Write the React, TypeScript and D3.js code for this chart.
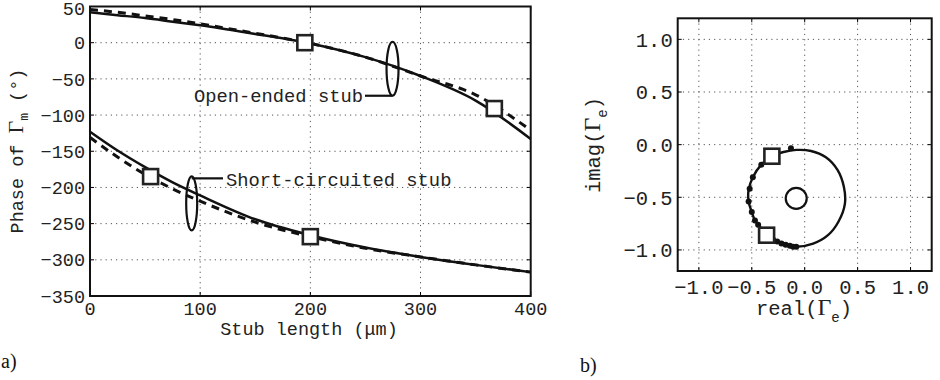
import React from "react";
import * as d3 from "d3";

// ---------- Data (a) ----------
const stubLen = [0, 25, 50, 75, 100, 150, 200, 250, 300, 350, 400];
const openSolid = [42, 38, 34, 29, 24, 12, -1, -20, -46, -80, -133];
const openDashed = [46, 42, 37, 32, 26, 13, -1, -20, -46, -72, -121];
const shortSolid = [-123, -149, -172, -193, -211, -244, -266, -283, -296, -307, -317];
const shortDashed = [-131, -158, -182, -202, -219, -248, -268, -284, -296, -307, -317];
const openSquares: [number, number][] = [[195, 0], [367, -91]];
const shortSquares: [number, number][] = [[55, -185], [200, -268]];
const aXTicks = [0, 100, 200, 300, 400];
const aYTicks = [50, 0, -50, -100, -150, -200, -250, -300, -350];

// ---------- Data (b) ----------
const locusRe = [-0.08, 0.08, 0.22, 0.32, 0.38, 0.37, 0.31, 0.2, 0.06, -0.08, -0.2, -0.31, -0.41, -0.49, -0.53, -0.53, -0.5, -0.47, -0.43, -0.36, -0.25, -0.15];
const locusIm = [-0.97, -0.94, -0.86, -0.73, -0.56, -0.4, -0.24, -0.12, -0.06, -0.05, -0.07, -0.11, -0.19, -0.31, -0.43, -0.54, -0.64, -0.72, -0.77, -0.85, -0.92, -0.96];
const dotRe = [-0.13, -0.41, -0.49, -0.52, -0.53, -0.5, -0.47, -0.44, -0.3, -0.26, -0.22, -0.18, -0.14, -0.11, -0.08];
const dotIm = [-0.035, -0.19, -0.31, -0.42, -0.54, -0.64, -0.72, -0.76, -0.9, -0.92, -0.94, -0.95, -0.96, -0.97, -0.97];
const bSquares: [number, number][] = [[-0.31, -0.11], [-0.36, -0.86]];
const bCircle: [number, number] = [-0.08, -0.51];
const bTicks = [-1.0, -0.5, 0.0, 0.5, 1.0];

const MONO = "'Liberation Mono', 'Courier New', monospace";

export default function App() {
  // Panel a scales
  const xa = d3.scaleLinear().domain([0, 400]).range([90, 530.7]);
  const ya = d3.scaleLinear().domain([-350, 50]).range([296, 6.5]);
  // Panel b scales
  const xb = d3.scaleLinear().domain([-1.2, 1.2]).range([677.7, 931.7]);
  const yb = d3.scaleLinear().domain([-1.2, 1.2]).range([271, 18.3]);

  const lineA = (vals: number[]) =>
    d3
      .line<number>()
      .x((_, i) => xa(stubLen[i]))
      .y((v) => ya(v))
      .curve(d3.curveMonotoneX)(vals) as string;

  const locus = d3
    .line<number>()
    .x((v) => xb(v))
    .y((_, i) => yb(locusIm[i]))
    .curve(d3.curveCatmullRomClosed.alpha(0.5))(locusRe) as string;

  const grid = { stroke: "#555", strokeWidth: 1, strokeDasharray: "1.2,4" };
  const sq = 15;

  return (
    <svg
      width={940}
      height={380}
      style={{ position: "absolute", left: 0, top: 0, background: "#fff" }}
      fontFamily={MONO}
    >
      <rect x={0} y={0} width={940} height={380} fill="#fff" />
      {/* ---------- Panel a ---------- */}
      <g>
        {aXTicks.slice(1, -1).map((t) => (
          <line key={"gx" + t} x1={xa(t)} x2={xa(t)} y1={ya(50)} y2={ya(-350)} {...grid} />
        ))}
        {aYTicks.slice(1, -1).map((t) => (
          <line key={"gy" + t} x1={xa(0)} x2={xa(400)} y1={ya(t)} y2={ya(t)} {...grid} />
        ))}
        {aXTicks.map((t) => (
          <g key={"tx" + t}>
            <line x1={xa(t)} x2={xa(t)} y1={ya(-350)} y2={ya(-350) - 4} stroke="#000" strokeWidth={1} />
            <line x1={xa(t)} x2={xa(t)} y1={ya(50)} y2={ya(50) + 4} stroke="#000" strokeWidth={1} />
            <text x={xa(t)} y={315} textAnchor="middle" fontSize={18.5} fill="#222">
              {t}
            </text>
          </g>
        ))}
        {aYTicks.map((t) => (
          <g key={"ty" + t}>
            <line x1={xa(0)} x2={xa(0) + 4} y1={ya(t)} y2={ya(t)} stroke="#000" strokeWidth={1} />
            <line x1={xa(400)} x2={xa(400) - 4} y1={ya(t)} y2={ya(t)} stroke="#000" strokeWidth={1} />
            <text x={85} y={Math.max(ya(t), 8.5)} dy="0.36em" textAnchor="end" fontSize={18.5} fill="#222">
              {t < 0 ? "\u2212" + Math.abs(t) : t}
            </text>
          </g>
        ))}

        <path d={lineA(openDashed)} fill="none" stroke="#111" strokeWidth={3} strokeDasharray="8,6" />
        <path d={lineA(openSolid)} fill="none" stroke="#111" strokeWidth={2.5} />
        <path d={lineA(shortDashed)} fill="none" stroke="#111" strokeWidth={3} strokeDasharray="8,6" />
        <path d={lineA(shortSolid)} fill="none" stroke="#111" strokeWidth={2.5} />

        {[...openSquares, ...shortSquares].map(([x, y], i) => (
          <rect
            key={"sq" + i}
            x={xa(x) - sq / 2}
            y={ya(y) - sq / 2}
            width={sq}
            height={sq}
            fill="#fff"
            stroke="#222"
            strokeWidth={2.6}
          />
        ))}

        {/* annotations */}
        <ellipse cx={xa(274.6)} cy={ya(-36)} rx={6} ry={27} fill="none" stroke="#111" strokeWidth={2.2} />
        <line x1={365} x2={xa(274.6)} y1={ya(-36) + 27} y2={ya(-36) + 27} stroke="#111" strokeWidth={2.2} />
        <text x={363} y={ya(-36) + 27} dy="0.33em" textAnchor="end" fontSize={18.8} fill="#222">
          Open-ended stub
        </text>
        <ellipse cx={xa(92.3)} cy={ya(-222)} rx={5.5} ry={27} fill="none" stroke="#111" strokeWidth={2.2} />
        <line x1={xa(92.3)} x2={223} y1={ya(-222) - 25} y2={ya(-222) - 25} stroke="#111" strokeWidth={2.2} />
        <text x={226} y={ya(-222) - 24} dy="0.33em" textAnchor="start" fontSize={18.8} fill="#222">
          Short-circuited stub
        </text>

        <rect x={xa(0)} y={ya(50)} width={xa(400) - xa(0)} height={ya(-350) - ya(50)} fill="none" stroke="#111" strokeWidth={2} />

        <text x={309} y={335} textAnchor="middle" fontSize={18.5} fill="#222">
          Stub length (μm)
        </text>
        <text transform="translate(23,151) rotate(-90)" textAnchor="middle" fontSize={18.5} fill="#222">
          Phase of <tspan fontFamily="'Liberation Serif', serif" fontSize={22}>Γ</tspan>
          <tspan fontSize={13} dy={5}>m</tspan>
          <tspan dy={-5}> (°)</tspan>
        </text>
        <text x={1} y={368} fontFamily="'Liberation Serif', 'DejaVu Serif', serif" fontSize={20} fill="#111">
          a)
        </text>
      </g>

      {/* ---------- Panel b ---------- */}
      <g>
        {bTicks.map((t) => (
          <g key={"bg" + t}>
            <line x1={xb(t)} x2={xb(t)} y1={yb(1.2)} y2={yb(-1.2)} {...grid} />
            <line x1={xb(-1.2)} x2={xb(1.2)} y1={yb(t)} y2={yb(t)} {...grid} />
            <line x1={xb(t)} x2={xb(t)} y1={yb(-1.2)} y2={yb(-1.2) - 4} stroke="#000" />
            <line x1={xb(t)} x2={xb(t)} y1={yb(1.2)} y2={yb(1.2) + 4} stroke="#000" />
            <line x1={xb(-1.2)} x2={xb(-1.2) + 4} y1={yb(t)} y2={yb(t)} stroke="#000" />
            <line x1={xb(1.2)} x2={xb(1.2) - 4} y1={yb(t)} y2={yb(t)} stroke="#000" />
            <text x={xb(t)} y={294} textAnchor="middle" fontSize={20.5} fill="#222">
              {(t < 0 ? "\u2212" : "") + Math.abs(t).toFixed(1)}
            </text>
            <text x={672.7} y={yb(t)} dy="0.36em" textAnchor="end" fontSize={20.5} fill="#222">
              {(t < 0 ? "\u2212" : "") + Math.abs(t).toFixed(1)}
            </text>
          </g>
        ))}

        <path d={locus} fill="none" stroke="#111" strokeWidth={2.4} />
        {dotRe.map((r, i) => (
          <circle key={"d" + i} cx={xb(r)} cy={yb(dotIm[i])} r={3} fill="#111" />
        ))}
        {bSquares.map(([r, im], i) => (
          <rect
            key={"bs" + i}
            x={xb(r) - sq / 2}
            y={yb(im) - sq / 2}
            width={sq}
            height={sq}
            fill="#fff"
            stroke="#222"
            strokeWidth={2.6}
          />
        ))}
        <circle cx={xb(bCircle[0])} cy={yb(bCircle[1])} r={10.5} fill="#fff" stroke="#111" strokeWidth={2.2} />

        <rect x={xb(-1.2)} y={yb(1.2)} width={xb(1.2) - xb(-1.2)} height={yb(-1.2) - yb(1.2)} fill="none" stroke="#111" strokeWidth={2} />

        <text x={804} y={315} textAnchor="middle" fontSize={20.5} fill="#222">
          real(<tspan fontFamily="'Liberation Serif', serif" fontSize={24}>Γ</tspan>
          <tspan fontSize={14} dy={7}>e</tspan>
          <tspan dy={-7}>)</tspan>
        </text>
        <text transform="translate(600,145) rotate(-90)" textAnchor="middle" fontSize={20.5} fill="#222">
          imag(<tspan fontFamily="'Liberation Serif', serif" fontSize={24}>Γ</tspan>
          <tspan fontSize={14} dy={7}>e</tspan>
          <tspan dy={-7}>)</tspan>
        </text>
        <text x={580} y={372} fontFamily="'Liberation Serif', 'DejaVu Serif', serif" fontSize={20} fill="#111">
          b)
        </text>
      </g>
    </svg>
  );
}
